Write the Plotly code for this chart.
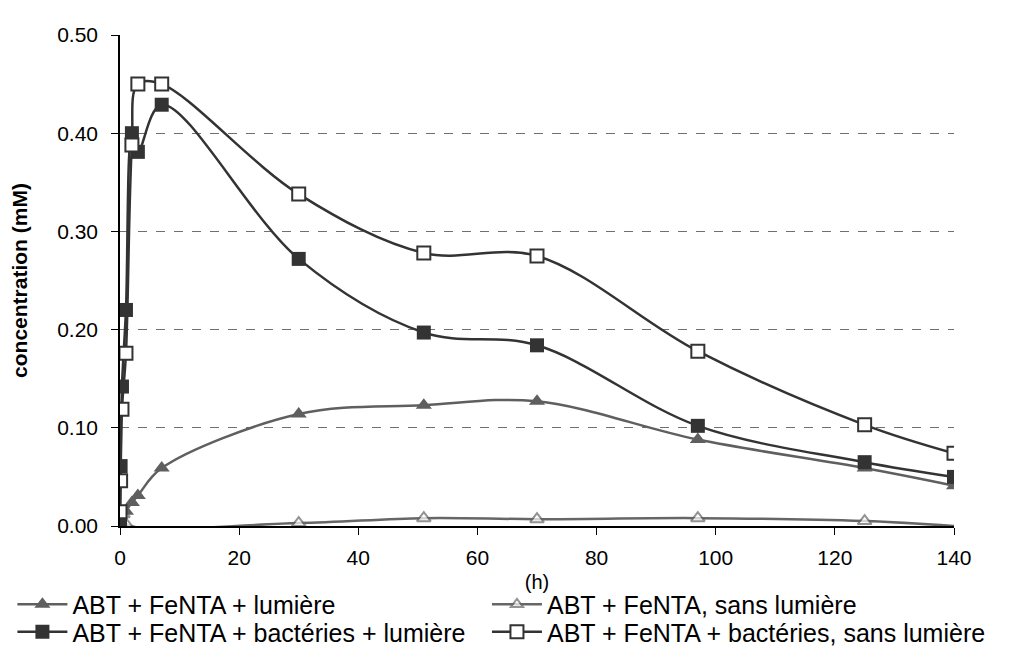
import plotly.graph_objects as go

# ---- data ----
t_tri = [0, 1, 2, 3, 7, 30, 51, 70, 97, 125, 140]
c_tri = [0.0, 0.015, 0.024, 0.031, 0.059, 0.114, 0.123, 0.127, 0.088, 0.059, 0.041]

t_otri = [0, 0.5, 1, 30, 51, 70, 97, 125, 140]
c_otri = [0.0, 0.012, 0.002, 0.003, 0.008, 0.007, 0.008, 0.005, 0.0]
s_otri = [12, 12, 12, 12, 12, 12, 12, 12, 0]

t_sq = [0, 0.1, 0.33, 1, 2, 3, 7, 30, 51, 70, 97, 125, 140]
c_sq = [0.0, 0.061, 0.142, 0.220, 0.400, 0.381, 0.429, 0.272, 0.197, 0.184, 0.102, 0.065, 0.050]

t_osq = [0, 0.1, 0.33, 1, 2, 3, 7, 30, 51, 70, 97, 125, 140]
c_osq = [0.0145, 0.046, 0.119, 0.176, 0.388, 0.450, 0.450, 0.338, 0.278, 0.275, 0.178, 0.103, 0.074]

names = ["ABT + FeNTA + lumière", "ABT + FeNTA, sans lumière",
         "ABT + FeNTA + bactéries + lumière", "ABT + FeNTA + bactéries, sans lumière"]

y_ticks = [0.0, 0.1, 0.2, 0.3, 0.4, 0.5]
x_ticks = [0, 20, 40, 60, 80, 100, 120, 140]

FONT = "Liberation Sans, Arial, sans-serif"

fig = go.Figure()
fig.add_trace(go.Scatter(
    x=t_tri, y=c_tri, name=names[0], mode="lines+markers", legend="legend",
    line=dict(color="#5f5f5f", width=2.5, shape="spline", smoothing=1),
    marker=dict(symbol="triangle-up", size=14, color="#5f5f5f", line=dict(width=0))))
fig.add_trace(go.Scatter(
    x=t_otri, y=c_otri, name=names[1], mode="lines+markers", legend="legend2",
    line=dict(color="#666666", width=2.5, shape="spline", smoothing=1),
    marker=dict(symbol="triangle-up", size=s_otri, color="white", line=dict(width=2, color="#666666"))))
fig.add_trace(go.Scatter(
    x=t_sq, y=c_sq, name=names[2], mode="lines+markers", legend="legend3",
    line=dict(color="#333333", width=2.5, shape="spline", smoothing=1),
    marker=dict(symbol="square", size=14, color="#333333", line=dict(width=0))))
fig.add_trace(go.Scatter(
    x=t_osq, y=c_osq, name=names[3], mode="lines+markers", legend="legend4",
    line=dict(color="#333333", width=2.5, shape="spline", smoothing=1),
    marker=dict(symbol="square", size=13, color="white", line=dict(width=2, color="#333333"))))

leg_common = dict(orientation="v", yanchor="middle", xanchor="left",
                  bgcolor="rgba(0,0,0,0)",
                  font=dict(size=25, family=FONT, color="black"), itemwidth=50)

fig.update_layout(
    width=1025, height=649,
    margin=dict(l=112, r=79, t=27, b=131, autoexpand=False),
    paper_bgcolor="white", plot_bgcolor="white",
    font=dict(family=FONT, size=21, color="black"),
    showlegend=True,
    legend=dict(x=-0.129, y=-0.160, **leg_common),
    legend2=dict(x=0.440, y=-0.160, **leg_common),
    legend3=dict(x=-0.129, y=-0.216, **leg_common),
    legend4=dict(x=0.440, y=-0.216, **leg_common),
)
fig.update_xaxes(
    range=[0, 140], tickvals=x_ticks, ticktext=[str(v) for v in x_ticks],
    showline=True, linecolor="black", linewidth=1.5, ticks="outside", ticklen=7,
    tickcolor="black", showgrid=False, zeroline=False, ticklabelstandoff=5,
    tickfont=dict(size=21),
    title=dict(text="(h)", font=dict(size=20, family=FONT), standoff=7))
fig.update_yaxes(
    range=[0, 0.5], tickvals=y_ticks, ticktext=["%.2f" % v for v in y_ticks],
    showline=True, linecolor="black", linewidth=1.5, ticks="outside", ticklen=7,
    tickcolor="black", showgrid=True, gridcolor="#707070", griddash="dash", gridwidth=1,
    zeroline=False, ticklabelstandoff=9, tickfont=dict(size=21),
    title=dict(text="<b>concentration (mM)</b>", font=dict(size=21, family=FONT), standoff=24))

fig.write_html("out.html")
